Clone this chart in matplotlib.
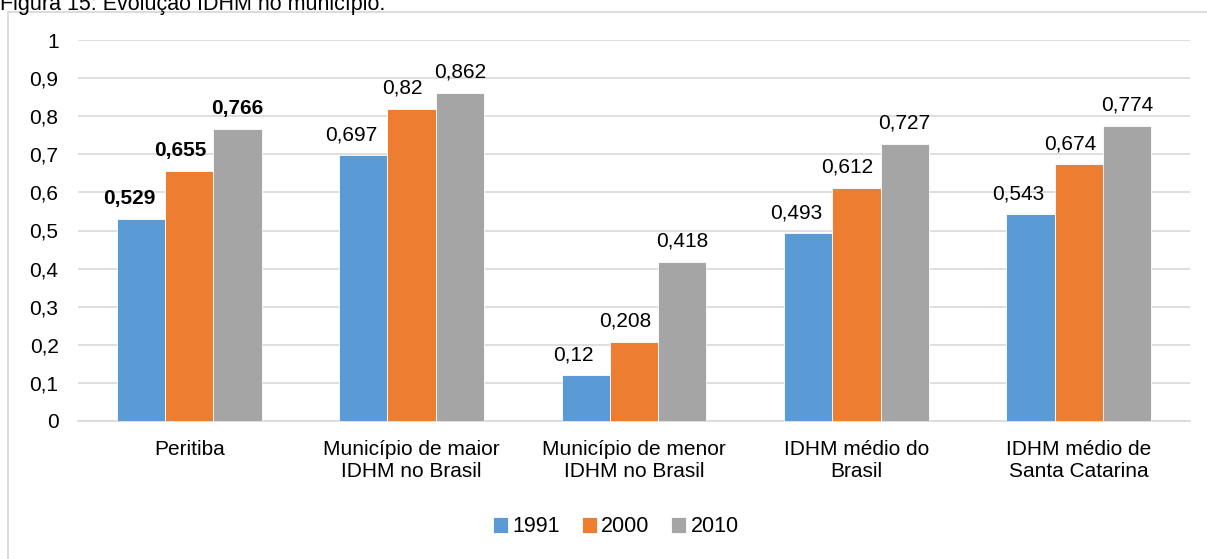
import numpy as np
import matplotlib.pyplot as plt
from matplotlib.patches import Rectangle

plt.rcParams['font.family'] = ['Liberation Sans', 'DejaVu Sans']

categorias = ['Peritiba', 'Município de maior\nIDHM no Brasil', 'Município de menor\nIDHM no Brasil',
              'IDHM médio do\nBrasil', 'IDHM médio de\nSanta Catarina']
anos = ['1991', '2000', '2010']
v1991 = [0.529, 0.697, 0.12, 0.493, 0.543]
v2000 = [0.655, 0.82, 0.208, 0.612, 0.674]
v2010 = [0.766, 0.862, 0.418, 0.727, 0.774]
cores = ['#5B9BD5', '#ED7D31', '#A5A5A5']

fig = plt.figure(figsize=(12.07, 5.59), dpi=100)
W, H = 1207, 559
ax = fig.add_axes([78/W, 1-421/H, 1112/W, 381/H])

# moldura do grafico
fig.patches.append(Rectangle((8/W, -0.1), 1.2, 1.1-12/H, transform=fig.transFigure,
                             fill=False, edgecolor='#d9d9d9', lw=1.3))
fig.text(0.0, 1-10/H, 'Figura 15: Evolução IDHM no município.', fontsize=15.5, va='baseline', ha='left')

x = np.arange(len(categorias))
w = 0.217
desloc = [-12, -9, 0]  # deslocamento horizontal dos rotulos (px)
for i, (vals, ano) in enumerate(zip([v1991, v2000, v2010], anos)):
    xs = x + (i-1)*w
    ax.bar(xs, vals, w, color=cores[i], edgecolor='white', linewidth=0.6, label=ano, zorder=3)
    for j, (xx, v) in enumerate(zip(xs, vals)):
        txt = ('%g' % v).replace('.', ',')
        ax.annotate(txt, (xx, v), xytext=(desloc[i]*0.72, 8), textcoords='offset points',
                    ha='center', va='bottom', fontsize=15,
                    fontweight='bold' if j == 0 else 'normal')

ax.set_xlim(-0.5, 4.5)
ax.set_ylim(0, 1)
ax.set_yticks(np.arange(0, 1.01, 0.1))
ax.set_yticklabels(['0'] + [('%.1f' % t).replace('.', ',') for t in np.arange(0.1, 0.95, 0.1)] + ['1'],
                   fontsize=15)
ax.set_xticks(x)
ax.set_xticklabels(categorias, fontsize=15, linespacing=1.2)
ax.tick_params(axis='y', length=0, pad=14)
ax.tick_params(axis='x', length=0, pad=14)
ax.grid(axis='y', color='#d9d9d9', lw=1.2, zorder=0)
for s in ['top', 'right', 'left']:
    ax.spines[s].set_visible(False)
ax.spines['bottom'].set_color('#d9d9d9')
ax.spines['bottom'].set_linewidth(1.2)

fig.legend(loc='center', bbox_to_anchor=(616/W, 1-527/H), ncol=3, frameon=False, fontsize=15.5,
           handlelength=0.7, handleheight=0.7, handletextpad=0.2, columnspacing=1.0)

fig.savefig('out.png', dpi=100)
